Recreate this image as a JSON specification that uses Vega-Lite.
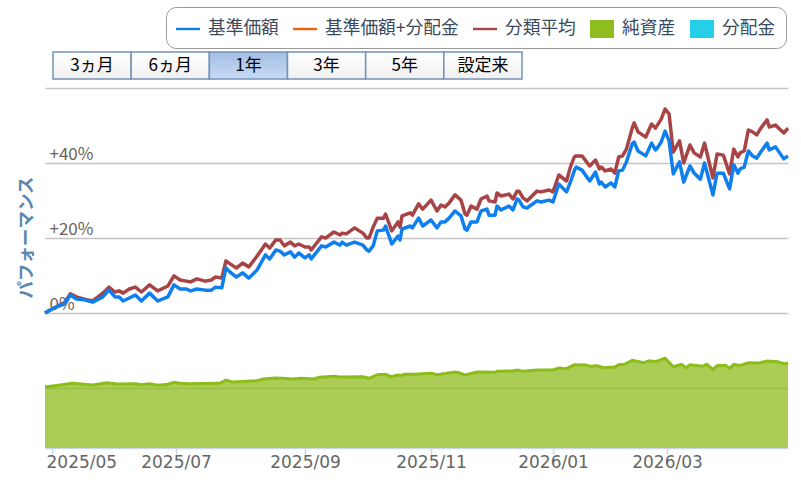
{
  "$schema": "https://vega.github.io/schema/vega-lite/v6.json",
  "autosize": "none",
  "width": 743,
  "height": 360,
  "padding": {"left": 45, "top": 88, "right": 13, "bottom": 38},
  "background": "white",
  "config": {"view": {"stroke": null}, "font": "Noto Sans CJK JP"},
  "datasets": {
    "perf": [
      {"date":"2025-04-27","fund":0,"avg":0},{"date":"2025-04-30","fund":0.8,"avg":0.8},{"date":"2025-05-03","fund":1.6,"avg":1.6},
      {"date":"2025-05-07","fund":2.4,"avg":2.7},{"date":"2025-05-10","fund":4.8,"avg":5.1},{"date":"2025-05-13","fund":3.7,"avg":4.3},
      {"date":"2025-05-17","fund":3.5,"avg":3.7},{"date":"2025-05-21","fund":2.9,"avg":3.2},{"date":"2025-05-26","fund":4.3,"avg":5.3},
      {"date":"2025-05-29","fund":6.1,"avg":6.9},{"date":"2025-06-01","fund":4.3,"avg":5.6},{"date":"2025-06-03","fund":4.3,"avg":5.9},
      {"date":"2025-06-05","fund":3.2,"avg":5.3},{"date":"2025-06-08","fund":4.0,"avg":6.4},{"date":"2025-06-11","fund":4.8,"avg":6.9},
      {"date":"2025-06-14","fund":3.2,"avg":5.6},{"date":"2025-06-18","fund":5.3,"avg":7.5},{"date":"2025-06-22","fund":3.2,"avg":5.9},
      {"date":"2025-06-27","fund":4.3,"avg":7.2},{"date":"2025-06-30","fund":7.5,"avg":9.9},{"date":"2025-07-03","fund":6.4,"avg":8.8},
      {"date":"2025-07-06","fund":6.4,"avg":8.5},{"date":"2025-07-08","fund":5.9,"avg":8.3},{"date":"2025-07-11","fund":6.4,"avg":9.1},
      {"date":"2025-07-15","fund":6.1,"avg":8.5},{"date":"2025-07-18","fund":6.1,"avg":8.8},{"date":"2025-07-20","fund":6.9,"avg":9.6},
      {"date":"2025-07-23","fund":6.7,"avg":9.3},{"date":"2025-07-25","fund":12,"avg":13.9},{"date":"2025-07-27","fund":10.9,"avg":13.1},
      {"date":"2025-07-30","fund":9.6,"avg":12},{"date":"2025-08-02","fund":10.7,"avg":13.3},{"date":"2025-08-05","fund":9.3,"avg":12.3},
      {"date":"2025-08-09","fund":11.5,"avg":15.2},{"date":"2025-08-13","fund":15.5,"avg":18.4},{"date":"2025-08-15","fund":14.4,"avg":17.3},
      {"date":"2025-08-18","fund":16.8,"avg":19.5},{"date":"2025-08-20","fund":16.5,"avg":19.5},{"date":"2025-08-22","fund":15.5,"avg":17.9},
      {"date":"2025-08-25","fund":16.3,"avg":18.9},{"date":"2025-08-27","fund":14.9,"avg":17.9},{"date":"2025-08-29","fund":16,"avg":18.4},
      {"date":"2025-09-01","fund":14.7,"avg":17.6},{"date":"2025-09-03","fund":15.5,"avg":17.6},{"date":"2025-09-04","fund":14.4,"avg":16.8},
      {"date":"2025-09-09","fund":17.9,"avg":20.3},{"date":"2025-09-11","fund":17.6,"avg":20},{"date":"2025-09-15","fund":18.9,"avg":21.6},
      {"date":"2025-09-18","fund":18.1,"avg":20.8},{"date":"2025-09-19","fund":18.9,"avg":21.3},{"date":"2025-09-21","fund":18.1,"avg":21.1},
      {"date":"2025-09-25","fund":18.9,"avg":22.7},{"date":"2025-09-29","fund":18.1,"avg":21.3},{"date":"2025-10-01","fund":16.8,"avg":20},
      {"date":"2025-10-02","fund":16.5,"avg":20},{"date":"2025-10-04","fund":17.9,"avg":22.9},{"date":"2025-10-06","fund":21.9,"avg":25.3},
      {"date":"2025-10-09","fund":22.1,"avg":25.3},{"date":"2025-10-10","fund":23.2,"avg":26.4},{"date":"2025-10-13","fund":18.4,"avg":21.9},
      {"date":"2025-10-16","fund":20.5,"avg":24.3},{"date":"2025-10-17","fund":19.5,"avg":22.9},{"date":"2025-10-18","fund":22.4,"avg":25.9},
      {"date":"2025-10-22","fund":23.2,"avg":26.7},{"date":"2025-10-23","fund":22.7,"avg":26.1},{"date":"2025-10-26","fund":25.3,"avg":29.1},
      {"date":"2025-10-28","fund":23.2,"avg":27.7},{"date":"2025-11-01","fund":24.8,"avg":30.1},{"date":"2025-11-04","fund":22.7,"avg":27.2},
      {"date":"2025-11-06","fund":24.3,"avg":28.8},{"date":"2025-11-08","fund":24.3,"avg":28.3},{"date":"2025-11-10","fund":25.3,"avg":29.3},
      {"date":"2025-11-13","fund":27.2,"avg":31.5},{"date":"2025-11-16","fund":25.9,"avg":30.1},{"date":"2025-11-18","fund":22.4,"avg":26.4},
      {"date":"2025-11-19","fund":22.1,"avg":26.1},{"date":"2025-11-21","fund":24.3,"avg":28.5},{"date":"2025-11-24","fund":24.3,"avg":27.7},
      {"date":"2025-11-26","fund":27.2,"avg":30.4},{"date":"2025-11-29","fund":27.7,"avg":31.2},{"date":"2025-11-30","fund":26.1,"avg":29.9},
      {"date":"2025-12-03","fund":26.1,"avg":29.6},{"date":"2025-12-04","fund":28.5,"avg":32},{"date":"2025-12-06","fund":27.5,"avg":31.2},
      {"date":"2025-12-10","fund":28.5,"avg":31.7},{"date":"2025-12-12","fund":27.5,"avg":30.4},{"date":"2025-12-14","fund":30.4,"avg":32.5},
      {"date":"2025-12-15","fund":30.1,"avg":32.5},{"date":"2025-12-17","fund":28.3,"avg":30.7},{"date":"2025-12-19","fund":28,"avg":29.9},
      {"date":"2025-12-24","fund":29.9,"avg":32.5},{"date":"2025-12-26","fund":29.6,"avg":32.3},{"date":"2025-12-30","fund":30.1,"avg":32.8},
      {"date":"2026-01-01","fund":29.6,"avg":32.3},{"date":"2026-01-04","fund":34.4,"avg":36.8},{"date":"2026-01-08","fund":32.3,"avg":35.2},
      {"date":"2026-01-10","fund":34.9,"avg":38.9},{"date":"2026-01-12","fund":37.9,"avg":41.6},{"date":"2026-01-13","fund":38.9,"avg":41.9},
      {"date":"2026-01-16","fund":38.1,"avg":41.9},{"date":"2026-01-20","fund":35.2,"avg":39.2},{"date":"2026-01-23","fund":37.6,"avg":40.8},
      {"date":"2026-01-25","fund":34.4,"avg":38.4},{"date":"2026-01-26","fund":34.9,"avg":38.9},{"date":"2026-01-28","fund":33.6,"avg":37.9},
      {"date":"2026-01-31","fund":34.7,"avg":38.4},{"date":"2026-02-02","fund":33.6,"avg":37.3},{"date":"2026-02-04","fund":37.9,"avg":41.6},
      {"date":"2026-02-06","fund":38.1,"avg":41.9},{"date":"2026-02-08","fund":40.3,"avg":43.7},{"date":"2026-02-11","fund":45.1,"avg":49.3},
      {"date":"2026-02-12","fund":45.6,"avg":50.7},{"date":"2026-02-14","fund":43.2,"avg":48.3},{"date":"2026-02-18","fund":41.9,"avg":46.9},
      {"date":"2026-02-21","fund":45.3,"avg":50.4},{"date":"2026-02-23","fund":43.5,"avg":49.3},{"date":"2026-02-24","fund":44,"avg":50.1},
      {"date":"2026-02-26","fund":45.6,"avg":51.7},{"date":"2026-02-28","fund":48.5,"avg":54.4},{"date":"2026-03-02","fund":45.9,"avg":53.1},
      {"date":"2026-03-04","fund":37.1,"avg":42.9},{"date":"2026-03-07","fund":40.3,"avg":45.9},{"date":"2026-03-09","fund":34.9,"avg":40},
      {"date":"2026-03-12","fund":39.2,"avg":44.8},{"date":"2026-03-14","fund":37.3,"avg":42.7},{"date":"2026-03-17","fund":35.7,"avg":41.6},
      {"date":"2026-03-19","fund":40,"avg":45.3},{"date":"2026-03-23","fund":31.5,"avg":36},{"date":"2026-03-25","fund":37.3,"avg":42.4},
      {"date":"2026-03-28","fund":37.3,"avg":42.1},{"date":"2026-03-31","fund":33.1,"avg":37.1},{"date":"2026-04-02","fund":39.5,"avg":43.7},
      {"date":"2026-04-04","fund":37.3,"avg":41.6},{"date":"2026-04-05","fund":38.4,"avg":42.7},{"date":"2026-04-07","fund":38.9,"avg":43.2},
      {"date":"2026-04-09","fund":43.2,"avg":48.8},{"date":"2026-04-11","fund":41.9,"avg":48.3},{"date":"2026-04-13","fund":41.3,"avg":47.5},
      {"date":"2026-04-15","fund":43,"avg":49.3},{"date":"2026-04-18","fund":45.3,"avg":51.5},{"date":"2026-04-19","fund":43.5,"avg":49.6},
      {"date":"2026-04-22","fund":44.3,"avg":50.1},{"date":"2026-04-26","fund":41.1,"avg":48},{"date":"2026-04-28","fund":41.9,"avg":49.3}
    ],
    "assets": [
      {"date":"2025-04-27","nav":61},{"date":"2025-05-05","nav":63},{"date":"2025-05-11","nav":64.7},{"date":"2025-05-21","nav":63},
      {"date":"2025-05-28","nav":65.3},{"date":"2025-06-02","nav":64},{"date":"2025-06-11","nav":64.3},{"date":"2025-06-14","nav":63.3},
      {"date":"2025-06-18","nav":64.3},{"date":"2025-06-22","nav":62.7},{"date":"2025-06-27","nav":63.7},{"date":"2025-06-30","nav":65.7},
      {"date":"2025-07-03","nav":64.7},{"date":"2025-07-07","nav":64.3},{"date":"2025-07-21","nav":64.7},{"date":"2025-07-22","nav":64.7},
      {"date":"2025-07-25","nav":68},{"date":"2025-07-28","nav":66},{"date":"2025-08-04","nav":66.7},{"date":"2025-08-09","nav":67.3},
      {"date":"2025-08-12","nav":69},{"date":"2025-08-18","nav":70},{"date":"2025-08-21","nav":69.7},{"date":"2025-08-26","nav":69},
      {"date":"2025-08-30","nav":69.7},{"date":"2025-09-05","nav":69},{"date":"2025-09-08","nav":70.7},{"date":"2025-09-15","nav":71.7},
      {"date":"2025-09-18","nav":71},{"date":"2025-09-29","nav":71.3},{"date":"2025-10-02","nav":69.7},{"date":"2025-10-06","nav":73.3},
      {"date":"2025-10-10","nav":73.7},{"date":"2025-10-13","nav":71},{"date":"2025-10-15","nav":72.7},{"date":"2025-10-18","nav":72.7},
      {"date":"2025-10-19","nav":73.7},{"date":"2025-10-24","nav":73.7},{"date":"2025-11-01","nav":74.7},{"date":"2025-11-04","nav":73.3},
      {"date":"2025-11-13","nav":76},{"date":"2025-11-15","nav":75.3},{"date":"2025-11-18","nav":73},{"date":"2025-11-24","nav":76},
      {"date":"2025-12-03","nav":75.7},{"date":"2025-12-04","nav":76.7},{"date":"2025-12-12","nav":77},{"date":"2025-12-14","nav":78},
      {"date":"2025-12-17","nav":76.7},{"date":"2025-12-24","nav":78},{"date":"2026-01-01","nav":78},{"date":"2026-01-04","nav":80},
      {"date":"2026-01-08","nav":79.3},{"date":"2026-01-12","nav":83.3},{"date":"2026-01-18","nav":83},{"date":"2026-01-20","nav":81.7},
      {"date":"2026-01-24","nav":82.3},{"date":"2026-01-27","nav":80.3},{"date":"2026-02-02","nav":81},{"date":"2026-02-04","nav":83.3},
      {"date":"2026-02-07","nav":83.7},{"date":"2026-02-11","nav":87.7},{"date":"2026-02-17","nav":85.3},{"date":"2026-02-20","nav":87.3},
      {"date":"2026-02-23","nav":86.3},{"date":"2026-02-28","nav":89.7},{"date":"2026-03-04","nav":81.3},{"date":"2026-03-08","nav":83.7},
      {"date":"2026-03-10","nav":80.3},{"date":"2026-03-12","nav":83.3},{"date":"2026-03-18","nav":81.7},{"date":"2026-03-20","nav":83.7},
      {"date":"2026-03-23","nav":78.7},{"date":"2026-03-25","nav":82.3},{"date":"2026-03-29","nav":82.7},{"date":"2026-03-31","nav":79.7},
      {"date":"2026-04-02","nav":83.7},{"date":"2026-04-04","nav":82.7},{"date":"2026-04-06","nav":83},{"date":"2026-04-09","nav":85.3},
      {"date":"2026-04-14","nav":85},{"date":"2026-04-18","nav":87},{"date":"2026-04-23","nav":86.3},{"date":"2026-04-26","nav":84.3},
      {"date":"2026-04-28","nav":84.7}
    ],
    "keys": [{"key":"基準価額"},{"key":"基準価額+分配金"},{"key":"分類平均"},{"key":"純資産"},{"key":"分配金"}],
    "buttons": [
      {"label":"3ヵ月","row":"期間","on":false},{"label":"6ヵ月","row":"期間","on":false},{"label":"1年","row":"期間","on":true},
      {"label":"3年","row":"期間","on":false},{"label":"5年","row":"期間","on":false},{"label":"設定来","row":"期間","on":false}
    ]
  },
  "layer": [
    {
      "data": {"name": "perf", "format": {"parse": {"date": "date"}}},
      "transform": [{"fold": ["avg", "fund"], "as": ["key", "value"]}],
      "mark": {"type": "line", "strokeWidth": 3.5, "strokeJoin": "round"},
      "encoding": {
        "x": {
          "field": "date", "type": "quantitative",
          "scale": {
            "type": "linear", "zero": false,
            "domain": [1745712000000,1746057600000,1751328000000,1756684800000,1761955200000,1767225600000,1772323200000,1777334400000],
            "range": [0,7,131,260,386,508,622,743]
          },
          "axis": null
        },
        "y": {
          "field": "value", "type": "quantitative",
          "scale": {"domain": [-36, 60]},
          "axis": {
            "orient": "left", "title": "パフォーマンス", "titleFontSize": 17.5, "titleFontWeight": "bold", "titleColor": "#5a86b0",
            "titleX": -10, "titleY": 149, "titleAlign": "center", "titleAngle": -90,
            "values": [-20, 0, 20, 40, 60], "grid": true, "gridColor": "#c4c4c4", "gridWidth": 1.5,
            "domain": false, "ticks": false, "labelAlign": "left", "labelPadding": -4, "labelBaseline": "bottom",
            "labelFontSize": 17, "labelColor": "#6b6358",
            "labelExpr": "datum.value == 0 ? '0%' : (datum.value == 20 || datum.value == 40 ? '+' + datum.value + '%' : '')"
          }
        },
        "color": {
          "field": "key", "type": "nominal", "legend": null,
          "scale": {"domain": ["avg", "fund"], "range": ["#a84445", "#0f7ff0"]}
        }
      }
    },
    {
      "data": {"name": "assets", "format": {"parse": {"date": "date"}}},
      "mark": {"type": "area", "fill": "#8fbc1e", "fillOpacity": 0.75, "line": {"stroke": "#8cbc18", "strokeWidth": 3}},
      "encoding": {
        "x": {
          "field": "date", "type": "quantitative", "title": null,
          "scale": {
            "type": "linear", "zero": false,
            "domain": [1745712000000,1746057600000,1751328000000,1756684800000,1761955200000,1767225600000,1772323200000,1777334400000],
            "range": [0,7,131,260,386,508,622,743]
          },
          "axis": {
            "labelExpr": "utcFormat(datum.value, '%Y/%m')",
            "values": [1746057600000,1751328000000,1756684800000,1761955200000,1767225600000,1772323200000],
            "grid": false, "domainColor": "#ccd6eb", "domainWidth": 1.5, "tickColor": "#ccd6eb", "tickSize": 6, "tickWidth": 1.5,
            "labelFont": "DejaVu Sans", "labelFontSize": 17, "labelColor": "#666666", "labelPadding": 0,
            "labelAlign": {"condition": {"test": "datum.value == 1746057600000", "value": "left"}, "value": "center"},
            "labelOffset": {"condition": {"test": "datum.value == 1746057600000", "value": -6}, "value": 0}
          }
        },
        "y": {"field": "nav", "type": "quantitative", "scale": {"domain": [0, 360]}, "axis": null}
      }
    },
    {
      "data": {"name": "keys"},
      "mark": {"type": "point", "filled": true, "size": 0, "opacity": 1},
      "encoding": {
        "color": {
          "field": "key", "type": "nominal", "title": null,
          "scale": {
            "domain": ["基準価額","基準価額+分配金","分類平均","純資産","分配金"],
            "range": ["#0f7ff0","#f4610d","#a84445","#8fbc1e","#26cfe8"]
          },
          "legend": {
            "orient": "none", "legendX": 121, "legendY": -81, "direction": "horizontal", "columns": 5, "gridAlign": "none",
            "title": null, "strokeColor": "#999999", "fillColor": "white", "cornerRadius": 10, "padding": 10,
            "symbolSize": 576, "symbolStrokeWidth": 0,
            "labelFontSize": 17.7, "labelColor": "#3a4a5c", "labelOffset": 8, "columnPadding": 14, "labelLimit": 200
          }
        },
        "shape": {
          "field": "key", "type": "nominal", "title": null,
          "scale": {
            "domain": ["基準価額","基準価額+分配金","分類平均","純資産","分配金"],
            "range": ["M-1,-0.1H1V0.1H-1Z","M-1,-0.1H1V0.1H-1Z","M-1,-0.1H1V0.1H-1Z","M-1,-0.75H1V0.75H-1Z","M-1,-0.75H1V0.75H-1Z"]
          }
        }
      }
    },
    {
      "data": {"name": "buttons"},
      "encoding": {
        "x": {"field": "label", "type": "nominal", "sort": null, "axis": null, "scale": {"range": [8, 477], "paddingInner": 0, "paddingOuter": 0}},
        "y": {"field": "row", "type": "nominal", "axis": null, "scale": {"range": [-36, -9], "paddingInner": 0, "paddingOuter": 0}}
      },
      "layer": [
        {
          "mark": {"type": "rect", "stroke": "#7592b4", "strokeWidth": 1.5},
          "encoding": {
            "fill": {
              "condition": {
                "test": "datum.on",
                "value": {"x1": 0, "y1": 0, "x2": 0, "y2": 1, "gradient": "linear", "stops": [{"offset": 0, "color": "#a3bfe3"}, {"offset": 1, "color": "#c6daf6"}]}
              },
              "value": {"x1": 0, "y1": 0, "x2": 0, "y2": 1, "gradient": "linear", "stops": [{"offset": 0, "color": "#ffffff"}, {"offset": 1, "color": "#f0f0f0"}]}
            }
          }
        },
        {
          "mark": {"type": "text", "fontSize": 17, "color": "#000000", "align": "center", "baseline": "middle"},
          "encoding": {"text": {"field": "label", "type": "nominal"}}
        }
      ]
    }
  ],
  "resolve": {"scale": {"x": "independent", "y": "independent", "color": "independent", "shape": "independent"}, "axis": {"x": "independent", "y": "independent"}}
}
